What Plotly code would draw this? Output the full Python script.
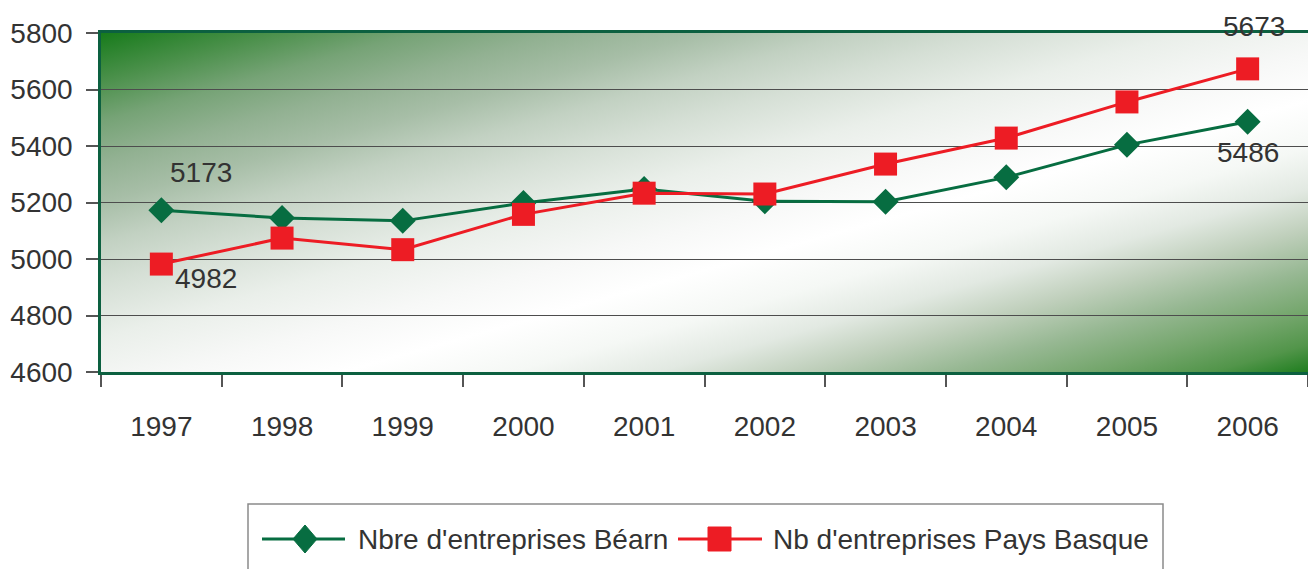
import base64
import plotly.graph_objects as go

years = ["1997", "1998", "1999", "2000", "2001", "2002", "2003", "2004", "2005", "2006"]
bearn = [5173, 5145, 5135, 5198, 5248, 5204, 5203, 5289, 5404, 5486]
basque = [4982, 5074, 5033, 5158, 5233, 5230, 5336, 5428, 5556, 5673]
name_bearn = "Nbre d'entreprises Béarn"
name_basque = "Nb d'entreprises Pays Basque"
y_ticks = [4600, 4800, 5000, 5200, 5400, 5600, 5800]

GREEN = "#076d41"
RED = "#ed1c24"
FRAME = "#0c6040"
TXT = "#333333"
FONT = "Liberation Sans, Arial, sans-serif"
FS = 28

W, H = 1308, 569
ML, MT, MB, MR = 101, 33, 197, 0
PW, PH = W - ML - MR, H - MT - MB

def px(x):
    return (x - ML) / PW

def py(y):
    return (MT + PH - y) / PH

# background gradient (decoration): isolines run from bottom-left to top-right corner
stops = [(0, "#177b1b"), (0.07, "#4a904a"), (0.13, "#76a376"), (0.19, "#92b192"),
         (0.25, "#a7bea7"), (0.31, "#c2d1c2"), (0.37, "#d5dfd5"), (0.45, "#eaefea"),
         (0.53, "#f7f8f7"), (0.6, "#ffffff"), (0.67, "#f5f8f5"), (0.73, "#e2e9e2"),
         (0.79, "#bfcfbb"), (0.85, "#97b893"), (0.91, "#74a66c"), (0.96, "#52954a"),
         (1, "#1f7e1f")]
gw, gh = PW, PH
s = 2 * gw * gh / (gw * gw + gh * gh)
gx2, gy2 = s * gh, s * gw
stop_xml = "".join(f'<stop offset="{o}" stop-color="{c}"/>' for o, c in stops)
svg = (f'<svg xmlns="http://www.w3.org/2000/svg" width="{gw}" height="{gh}" viewBox="0 0 {gw} {gh}" '
       'preserveAspectRatio="none"><defs><linearGradient id="g" gradientUnits="userSpaceOnUse" '
       f'x1="0" y1="0" x2="{gx2:.2f}" y2="{gy2:.2f}">'
       f'{stop_xml}</linearGradient></defs><rect x="0" y="0" width="{gw}" height="{gh}" fill="url(#g)"/></svg>')
bg_src = "data:image/svg+xml;base64," + base64.b64encode(svg.encode()).decode()

fig = go.Figure()
fig.add_trace(go.Scatter(x=years, y=bearn, name=name_bearn, mode="lines+markers",
                         line=dict(color=GREEN, width=3),
                         marker=dict(symbol="diamond", size=20, color=GREEN)))
fig.add_trace(go.Scatter(x=years, y=basque, name=name_basque, mode="lines+markers",
                         line=dict(color=RED, width=3),
                         marker=dict(symbol="square", size=23, color=RED)))

ann = []
def lab(i, vals, xs, ys):
    ann.append(dict(x=i, y=vals[i], xref="x", yref="y", text=str(vals[i]), showarrow=False,
                    xshift=xs, yshift=ys, font=dict(family=FONT, size=FS, color=TXT)))
first, last = 0, len(years) - 1
lab(first, bearn, 40, 38)
lab(first, basque, 45, -14)
lab(last, basque, 6, 42)
lab(last, bearn, 0, -31)

# custom legend
LY = 539
shapes = [
    dict(type="rect", xref="paper", yref="paper", x0=px(248), x1=px(1163), y0=py(580), y1=py(504),
         line=dict(color="#8a8a8a", width=1.5), fillcolor="white", layer="above"),
    dict(type="line", xref="paper", yref="paper", x0=px(262), x1=px(345), y0=py(LY), y1=py(LY),
         line=dict(color=GREEN, width=3)),
    dict(type="path", xref="paper", yref="paper",
         path=f"M{px(305)},{py(LY-14)} L{px(317)},{py(LY)} L{px(305)},{py(LY+14)} L{px(293)},{py(LY)} Z",
         fillcolor=GREEN, line=dict(color=GREEN, width=1)),
    dict(type="line", xref="paper", yref="paper", x0=px(678), x1=px(762), y0=py(LY), y1=py(LY),
         line=dict(color=RED, width=3)),
    dict(type="rect", xref="paper", yref="paper", x0=px(708), x1=px(731), y0=py(LY+12), y1=py(LY-12),
         fillcolor=RED, line=dict(color=RED, width=1)),
]
ann.append(dict(x=px(356), y=py(LY), xref="paper", yref="paper", text=name_bearn, showarrow=False,
                xanchor="left", yanchor="middle", font=dict(family=FONT, size=FS, color=TXT)))
ann.append(dict(x=px(771), y=py(LY), xref="paper", yref="paper", text=name_basque, showarrow=False,
                xanchor="left", yanchor="middle", font=dict(family=FONT, size=FS, color=TXT)))

fig.update_layout(
    width=W, height=H,
    margin=dict(l=ML, r=MR, t=MT, b=MB, pad=0, autoexpand=False),
    paper_bgcolor="white", plot_bgcolor="rgba(0,0,0,0)",
    showlegend=False,
    font=dict(family=FONT, size=FS, color=TXT),
    annotations=ann, shapes=shapes,
    images=[dict(source=bg_src, xref="paper", yref="paper", x=0, y=1, sizex=1, sizey=1,
                 sizing="stretch", xanchor="left", yanchor="top", layer="below")],
)
fig.update_xaxes(type="category", range=[-0.5, len(years) - 0.5], tickson="boundaries",
                 ticks="outside", ticklen=12, tickcolor="#555555", tickwidth=1.5,
                 showline=True, linecolor=FRAME, linewidth=2.5, mirror=True,
                 showgrid=False, ticklabelstandoff=28, automargin=False,
                 tickfont=dict(family=FONT, size=FS, color=TXT))
fig.update_yaxes(range=[4600, 5800], tickvals=y_ticks, ticks="outside", ticklen=12,
                 tickcolor="#555555", tickwidth=1.5,
                 showline=True, linecolor=FRAME, linewidth=2.5,
                 showgrid=True, gridcolor="#4d4d4d", gridwidth=1, zeroline=False,
                 ticklabelstandoff=8, automargin=False,
                 tickfont=dict(family=FONT, size=FS, color=TXT))

fig.write_html("out.html", config={"displayModeBar": False},
               post_script="document.body.style.margin='0';document.body.style.overflow='hidden';")
